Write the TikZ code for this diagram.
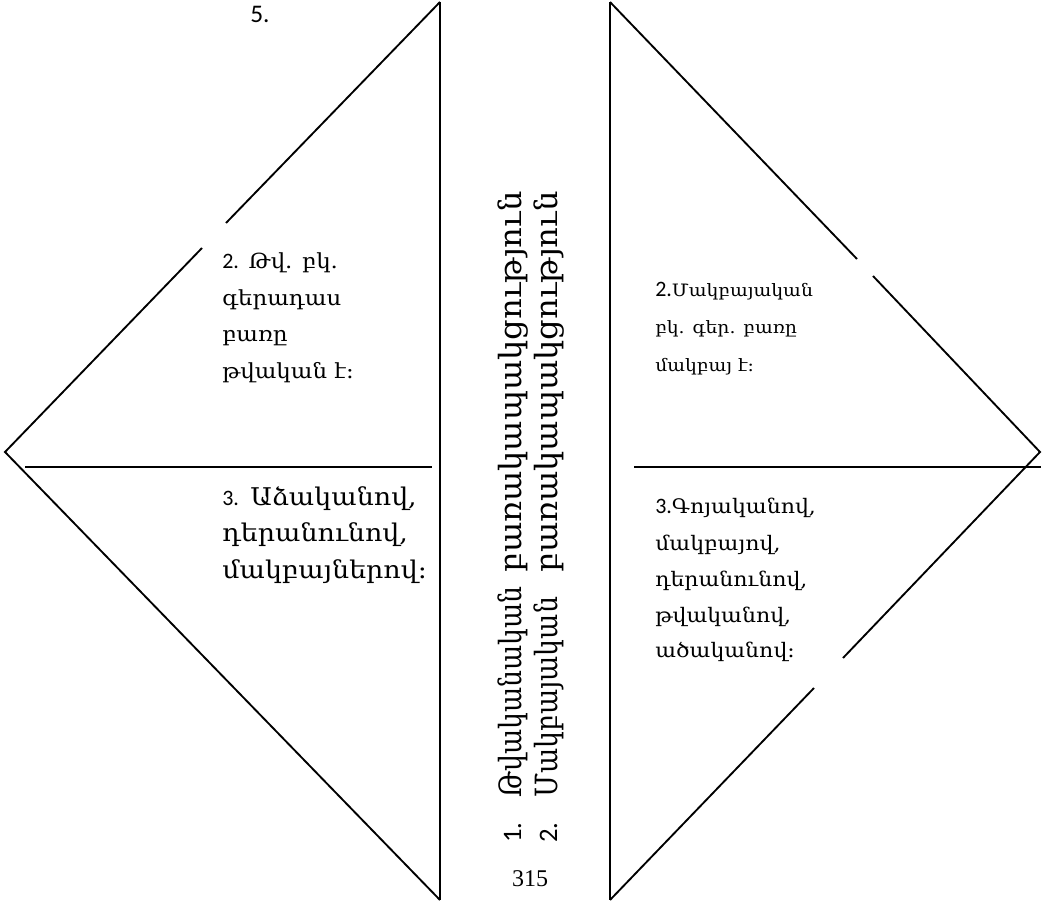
\documentclass[tikz,border=0pt]{standalone}
\usepackage{fontspec}
\setmainfont{DejaVu Serif}[FakeStretch=1.1]
\newfontfamily\numfont{Carlito}
\newfontfamily\pagefont{Liberation Serif}
\newfontfamily\spinenarrow{DejaVu Serif}[FakeStretch=0.87]
\newfontfamily\spinewide{DejaVu Serif}[FakeStretch=1.044]
\newcommand{\num}[1]{{\numfont\fontsize{16.5}{20}\selectfont #1}}

\begin{document}
\begin{tikzpicture}[x=0.75pt,y=-0.75pt,
    edge/.style={line width=1.4pt},
    txt/.style={anchor=base west, inner sep=0pt},
    lup/.style={txt, font=\fontsize{15.6}{20}\selectfont},
    llow/.style={txt, font=\fontsize{18.3}{22}\selectfont},
    rup/.style={txt, font=\fontsize{12.8}{16}\selectfont},
    rlow/.style={txt, font=\fontsize{15}{18}\selectfont},
    spine/.style={anchor=base west, rotate=90, inner sep=0pt,
      font=\fontsize{23}{28}\selectfont}]
\useasboundingbox (0,0) rectangle (1043,902);

% left kite
\coordinate (LT) at (440,2);
\coordinate (LB) at (440,900);
\coordinate (LA) at (5,452);
\coordinate (LG1) at (226,223);
\coordinate (LG2) at (202,248);
\coordinate (LH1) at (25,467);
\coordinate (LH2) at (432,467);
\draw[edge] (LT) -- (LB);
\draw[edge] (LT) -- (LG1);
\draw[edge] (LG2) -- (LA) -- (LB);
\draw[edge] (LH1) -- (LH2);

% right kite
\coordinate (RT) at (610,2);
\coordinate (RB) at (610,900);
\coordinate (RA) at (1040,452);
\coordinate (RG1) at (857,259);
\coordinate (RG2) at (873,276);
\coordinate (RG3) at (843,658);
\coordinate (RG4) at (814,688);
\coordinate (RH1) at (634,467);
\coordinate (RH2) at (1041,467);
\draw[edge] (RT) -- (RB);
\draw[edge] (RT) -- (RG1);
\draw[edge] (RG2) -- (RA) -- (RG3);
\draw[edge] (RG4) -- (RB);
\draw[edge] (RH1) -- (RH2);

% number at the top
\node[txt, font=\numfont\fontsize{19}{22}\selectfont] (five) at (250,23) {5.};

% left kite, upper half
\node[lup] (lu1) at (222,269)   {\num{2.} Թվ. բկ.};
\node[lup] (lu2) at (222,305.5) {գերադաս};
\node[lup] (lu3) at (222,342)   {բառը};
\node[lup] (lu4) at (222,378.5) {թվական է:};

% left kite, lower half
\node[llow] (ll1) at (222,505)   {\num{3.} Աձականով,};
\node[llow] (ll2) at (222,541.5) {դերանունով,};
\node[llow] (ll3) at (222,578)   {մակբայներով:};

% right kite, upper half
\node[rup] (ru1) at (655,297) {\num{2.}Մակբայական};
\node[rup] (ru2) at (655,334) {բկ. գեր. բառը};
\node[rup] (ru3) at (655,372) {մակբայ է:};

% right kite, lower half
\node[rlow] (rl1) at (655,513) {\num{3.}Գոյականով,};
\node[rlow] (rl2) at (655,550) {մակբայով,};
\node[rlow] (rl3) at (655,586) {դերանունով,};
\node[rlow] (rl4) at (655,622) {թվականով,};
\node[rlow] (rl5) at (655,657) {ածականով:};

% vertical list between the kites
\node[spine] (s1) at (521,843) {\makebox[202.5pt][l]{\makebox[34pt][l]{\numfont\fontsize{20}{24}\selectfont 1.}\spinenarrow Թվականական}\spinewide բառակապակցություն};
\node[spine] (s2) at (557,843) {\makebox[202.5pt][l]{\makebox[34pt][l]{\numfont\fontsize{20}{24}\selectfont 2.}\spinenarrow Մակբայական}\spinewide բառակապակցություն};

% page number
\node[anchor=base, inner sep=0pt, font=\pagefont\fontsize{18}{20}\selectfont] (page) at (530,886) {315};
\end{tikzpicture}
\end{document}
